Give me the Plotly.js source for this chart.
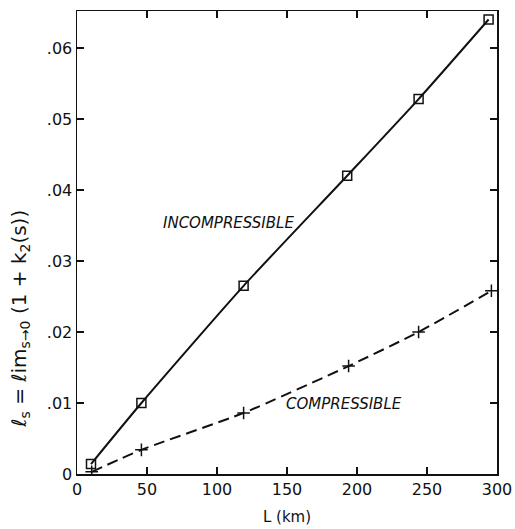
<!DOCTYPE html>
<html>
<head>
<meta charset="utf-8">
<script src="https://cdn.plot.ly/plotly-3.0.1.min.js"></script>
<style>html,body{margin:0;padding:0;background:#fff;}#chart{width:515px;height:529px;}</style>
</head>
<body>
<div id="chart"></div>
<script>
const incL = [10, 46, 119, 193, 244, 294];
const incV = [0.0014, 0.0100, 0.0265, 0.0420, 0.0528, 0.0640];
const comL = [10.5, 46, 119, 194, 244, 296];
const comV = [0.0003, 0.0034, 0.0086, 0.0152, 0.0200, 0.0258];
const xTickVals = [0, 50, 100, 150, 200, 250, 300];
const xTickText = ['0', '50', '100', '150', '200', '250', '300'];
const yTickVals = [0, 0.01, 0.02, 0.03, 0.04, 0.05, 0.06];
const yTickText = ['0', '.01', '.02', '.03', '.04', '.05', '.06'];
const labelInc = 'INCOMPRESSIBLE';
const labelCom = 'COMPRESSIBLE';
const yTitle = '<i>ℓ</i><sub>s</sub> = <i>ℓ</i>im<sub>s→0</sub> (1 + k<sub>2</sub>(s))';

const font = 'DejaVu Sans, sans-serif';
const traces = [
  {x: incL, y: incV, mode: 'lines+markers', type: 'scatter',
   line: {color: '#111', width: 2, shape: 'spline', smoothing: 0.6},
   marker: {symbol: 'square-open', size: 9, color: '#111', line: {width: 1.5, color: '#111'}}},
  {x: comL, y: comV, mode: 'lines+markers', type: 'scatter',
   line: {color: '#111', width: 2, dash: '11px,6px', shape: 'spline', smoothing: 0.6},
   marker: {symbol: 'cross-thin', size: 9, color: '#111', line: {width: 1.5, color: '#111'}}}
];
const axisCommon = {showgrid: false, zeroline: false, showline: true, linecolor: '#111', linewidth: 1.5,
  mirror: 'ticks', ticks: 'inside', ticklen: 7, tickwidth: 1.2, tickcolor: '#111',
  tickfont: {family: font, size: 16, color: '#111'}};
const layout = {
  width: 515, height: 529, showlegend: false,
  paper_bgcolor: '#fff', plot_bgcolor: '#fff',
  margin: {l: 77, r: 18, t: 11, b: 55},
  xaxis: Object.assign({}, axisCommon, {range: [0, 300], tickvals: xTickVals, ticktext: xTickText,
    title: {text: 'L (km)', font: {family: font, size: 15, color: '#111'}, standoff: 14}}),
  yaxis: Object.assign({}, axisCommon, {range: [0, 0.0652], tickvals: yTickVals, ticktext: yTickText}),
  annotations: [
    {x: 108, y: 0.0354, xref: 'x', yref: 'y', text: '<i>' + labelInc + '</i>', showarrow: false,
     xanchor: 'center', font: {family: font, size: 15, color: '#111'}},
    {x: 148, y: 0.0099, xref: 'x', yref: 'y', text: '<i>' + labelCom + '</i>', showarrow: false,
     xanchor: 'left', font: {family: font, size: 15, color: '#111'}},
    {x: -0.136, y: 0.335, xref: 'paper', yref: 'paper', text: yTitle, showarrow: false, textangle: -90,
     xanchor: 'center', yanchor: 'middle', font: {family: font, size: 20, color: '#111'}}
  ]
};
Plotly.newPlot('chart', traces, layout, {displayModeBar: false, staticPlot: true});
</script>
</body>
</html>
